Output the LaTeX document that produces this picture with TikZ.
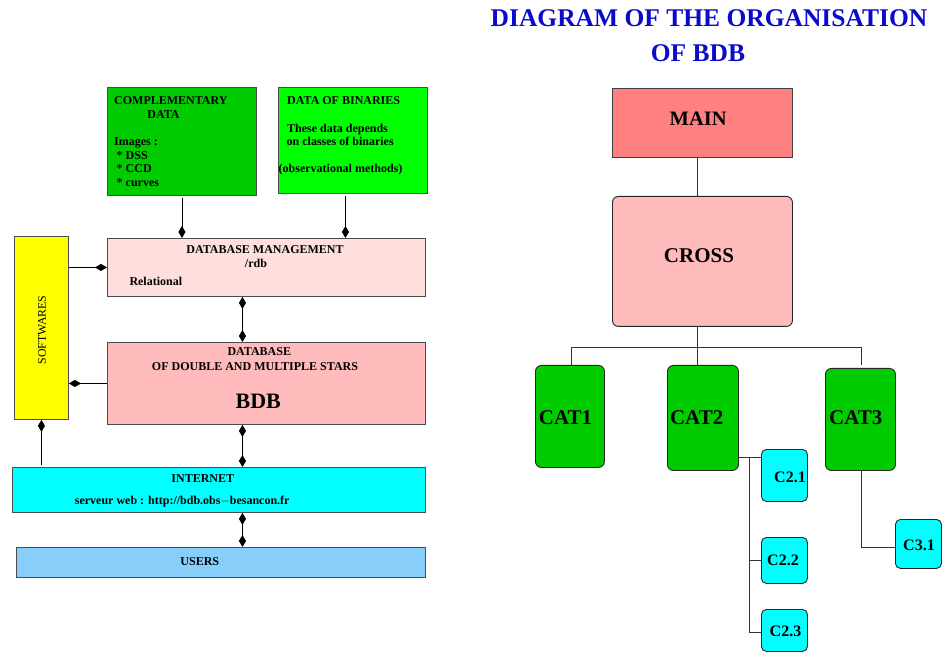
\documentclass[tikz,border=0pt]{standalone}
\usepackage{fontspec}
\setmainfont{Liberation Serif}
\usetikzlibrary{arrows.meta}
\definecolor{compgreen}{RGB}{0,204,0}
\definecolor{bingreen}{RGB}{0,255,0}
\definecolor{dbmpink}{RGB}{255,222,222}
\definecolor{bdbpink}{RGB}{255,187,187}
\definecolor{mainred}{RGB}{255,128,128}
\definecolor{softyellow}{RGB}{255,255,0}
\definecolor{netcyan}{RGB}{0,255,255}
\definecolor{userblue}{RGB}{135,206,250}
\definecolor{titleblue}{RGB}{10,10,205}
\begin{document}
\begin{tikzpicture}[x=1pt,y=-1pt,
  box/.style={draw=black!70, line width=0.9pt, inner sep=0pt, anchor=north west},
  rbox/.style={draw=black!85, line width=0.9pt, inner sep=0pt, anchor=north west, rounded corners=5pt},
  txt/.style={inner sep=0pt, font=\fontsize{12}{13.5}\selectfont\bfseries},
  big/.style={inner sep=0pt, anchor=base, font=\fontsize{21}{24}\selectfont\bfseries},
  small/.style={inner sep=0pt, anchor=base, font=\fontsize{16}{18}\selectfont\bfseries},
  arr/.style={line width=0.8pt, -{Diamond[length=12pt,width=7pt]}},
  arrtwo/.style={line width=0.8pt, {Diamond[length=12pt,width=7pt]}-{Diamond[length=12pt,width=7pt]}},
  tree/.style={line width=0.8pt, draw=black!80},
]
\useasboundingbox (0,0) rectangle (943,652);
\fill[white] (0,0) rectangle (943,652);

% ---------- left diagram ----------
\node[box, fill=compgreen, minimum width=149pt, minimum height=108pt] (comp) at (107,87) {};
\node[box, fill=bingreen, minimum width=149pt, minimum height=106pt] (bin) at (278,87) {};
\node[box, fill=dbmpink, minimum width=318pt, minimum height=58pt] (dbm) at (107,238) {};
\node[box, fill=softyellow, minimum width=54pt, minimum height=183pt] (soft) at (14,236) {};
\node[box, fill=bdbpink, minimum width=318pt, minimum height=82pt] (bdb) at (107,342) {};
\node[box, fill=netcyan, minimum width=413pt, minimum height=45pt] (inet) at (12,467) {};
\node[box, fill=userblue, minimum width=409pt, minimum height=30pt] (users) at (16,547) {};

\node[txt, anchor=base west] (c1) at (114,105) {COMPLEMENTARY};
\node[txt, anchor=base] (c2) at (163.5,119) {DATA};
\node[txt, anchor=base west] (c3) at (114,145.7) {Images :};
\node[txt, anchor=base west] (c4) at (116.5,159.2) {* DSS};
\node[txt, anchor=base west] (c5) at (116.5,172.7) {* CCD};
\node[txt, anchor=base west] (c6) at (116.5,186.2) {* curves};

\node[txt, anchor=base west] (b1) at (287,105) {DATA OF BINARIES};
\node[txt, anchor=base west] (b2) at (287,132.3) {These data depends};
\node[txt, anchor=base west] (b3) at (286.5,145.5) {on classes of binaries};
\node[txt, anchor=base west] (b4) at (278.5,172.7) {(observational methods)};

\node[txt, anchor=base] (d1) at (265,253.7) {DATABASE MANAGEMENT};
\node[txt, anchor=base] (d2) at (256,267.3) {/rdb};
\node[txt, anchor=base west] (d3) at (129.3,285.7) {Relational};

\node[txt, anchor=base] (e1) at (259.3,355.3) {DATABASE};
\node[txt, anchor=base] (e2) at (255,370.3) {OF DOUBLE AND MULTIPLE STARS};
\node[big, font=\fontsize{22}{24}\selectfont\bfseries] (e3) at (258.2,408.7) {BDB};

\node[txt, anchor=base] (i1) at (202.8,482.3) {INTERNET};
\node[txt, anchor=base] (i2) at (182.2,504) {serveur web : http://bdb.obs{\(-\)}besancon.fr};
\node[txt, anchor=base] (u1) at (199.8,565) {USERS};

\node[inner sep=0pt, rotate=90, font=\fontsize{11.8}{13}\selectfont] (s1) at (42,330) {SOFTWARES};

% arrows
\coordinate (vx) at ([xshift=-24pt]bdb.south);
\draw[arr, shorten <=2pt] (comp.south) -- (comp.south |- dbm.north);
\draw[arr, shorten <=2pt] ([xshift=-7.5pt]bin.south) -- ([xshift=-7.5pt]bin.south |- dbm.north);
\draw[arr] (soft.east |- dbm.west) -- (dbm.west);
\draw[arr] (bdb.west) -- (bdb.west -| soft.east);
\draw[arr, shorten <=2pt] (inet.north -| soft.south) -- (soft.south);
\draw[arrtwo] (dbm.south -| vx) -- (bdb.north -| vx);
\draw[arrtwo] (vx) -- (inet.north -| vx);
\draw[arrtwo] (inet.south -| vx) -- (users.north -| vx);

% ---------- right diagram ----------
\node[inner sep=0pt, anchor=base, text=titleblue, font=\fontsize{25.5}{30}\selectfont\bfseries] (title1) at (709,27) {DIAGRAM OF THE ORGANISATION};
\node[inner sep=0pt, anchor=base, text=titleblue, font=\fontsize{25.5}{30}\selectfont\bfseries] (title2) at (698,62) {OF BDB};

\node[box, draw=black!75, fill=mainred, minimum width=180pt, minimum height=69pt] (main) at (612,88) {};
\node[rbox, fill=bdbpink, minimum width=180pt, minimum height=130pt, rounded corners=6pt] (cross) at (612,196) {};
\node[rbox, fill=compgreen, minimum width=69pt, minimum height=102pt, rounded corners=6pt] (cat1) at (535,365) {};
\node[rbox, fill=compgreen, minimum width=71pt, minimum height=105pt, rounded corners=6pt] (cat2) at (667,365) {};
\node[rbox, fill=compgreen, minimum width=70pt, minimum height=102pt, rounded corners=6pt] (cat3) at (825,368) {};
\node[rbox, fill=netcyan, minimum width=46pt, minimum height=52pt] (c21) at (761,449) {};
\node[rbox, fill=netcyan, minimum width=46pt, minimum height=46pt] (c22) at (761,537) {};
\node[rbox, fill=netcyan, minimum width=46pt, minimum height=42pt] (c23) at (761,609) {};
\node[rbox, fill=netcyan, minimum width=46pt, minimum height=49pt] (c31) at (895,519) {};

\node[big, font=\fontsize{20.5}{24}\selectfont\bfseries] (tmain) at (698.2,126) {MAIN};
\node[big] (tcross) at (699,262.7) {CROSS};
\node[big] (tcat1) at (565.5,424.3) {CAT1};
\node[big] (tcat2) at (696.7,424.3) {CAT2};
\node[big] (tcat3) at (855.8,424.3) {CAT3};
\node[small] (tc21) at (790,482.7) {C2.1};
\node[small] (tc22) at (783,565) {C2.2};
\node[small] (tc23) at (785.5,636.7) {C2.3};
\node[small] (tc31) at (919,550) {C3.1};

\coordinate (bus) at (697,347);
\coordinate (busL) at (571,347);
\coordinate (busR) at (861,347);
\coordinate (j2) at (749,457);

\draw[tree] (bus |- main.south) -- (bus |- cross.north);
\draw[tree] (bus |- cross.south) -- (bus);
\draw[tree] (busL) -- (busR);
\draw[tree] (busL) -- (busL |- cat1.north);
\draw[tree] (bus) -- (bus |- cat2.north);
\draw[tree] (busR) -- ([yshift=3pt]busR |- cat3.north);
\draw[tree] (cat2.east |- j2) -- (j2 -| c21.west);
\draw[tree] (j2) |- ([yshift=-1.5pt]c23.west);
\draw[tree] (j2 |- c22.west) -- (c22.west);
\draw[tree] (busR |- cat3.south) |- ([yshift=-3.5pt]c31.west);
\end{tikzpicture}
\end{document}
